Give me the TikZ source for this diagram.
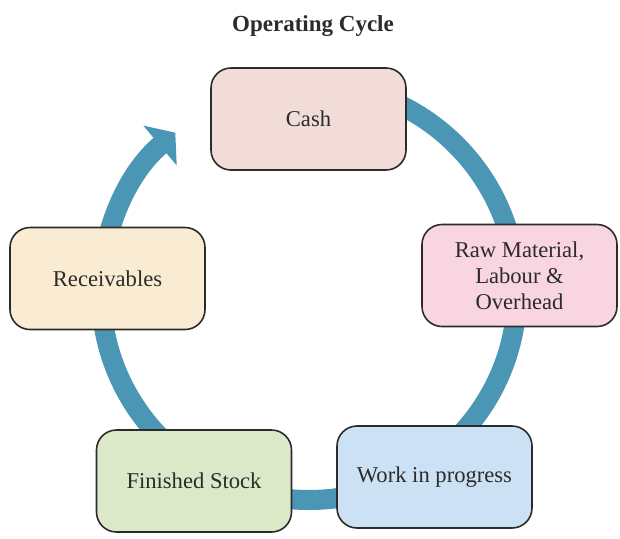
\documentclass[tikz,border=0pt]{standalone}
\usepackage{fontspec}
\setmainfont{Liberation Serif}
\usepackage{xcolor}
\usepackage{tikz}
\usetikzlibrary{calc,arrows.meta}
\definecolor{ink}{HTML}{2B2B2B}
\definecolor{cyc}{HTML}{4A96B4}
\definecolor{cashbg}{HTML}{F2DCD7}
\definecolor{rawbg}{HTML}{F9D5E1}
\definecolor{wipbg}{HTML}{CCE1F4}
\definecolor{finbg}{HTML}{DCE9C8}
\definecolor{recbg}{HTML}{FAEBD3}
\tikzset{
  box/.style={draw=ink, line width=0.8pt, rounded corners=10pt,
    minimum width=97.5pt, minimum height=51pt, inner sep=2pt,
    align=center, text=ink, font=\fontsize{11.3}{13}\selectfont},
  flow/.style={draw=cyc, line width=10pt,
    -{Triangle[width=25.5pt,length=10pt]}},
  ttl/.style={text=ink, font=\bfseries\fontsize{11.5}{14}\selectfont}
}

\begin{document}
\begin{tikzpicture}[x=0.5pt,y=0.5pt]
  \useasboundingbox (0,0) rectangle (620,538);
  \coordinate (O) at (309,246);
  % the cycle ring, ends in the arrow head at top left
  \draw[flow] (O) ++(92:104pt) arc[start angle=92, end angle=-230, radius=104pt];

  \node[ttl] (title) at (313,512) {Operating Cycle};
  \node[box, fill=cashbg] (cash) at (308.5,419) {Cash};
  \node[box, fill=rawbg] (raw) at (519.5,262.5) {Raw Material,\\Labour \&\\Overhead};
  \node[box, fill=wipbg] (wip) at (434.5,61) {Work in progress};
  \node[box, fill=finbg] (fin) at (194,57) {Finished Stock};
  \node[box, fill=recbg] (rec) at (107.5,259.5) {Receivables};
\end{tikzpicture}
\end{document}
